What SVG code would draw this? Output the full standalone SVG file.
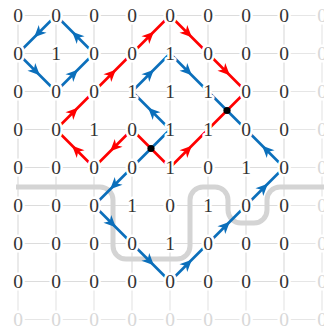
<svg xmlns="http://www.w3.org/2000/svg" width="324" height="329" viewBox="0 0 324 329">
<style>
.g{stroke:#dcdcdc;stroke-width:1.2;fill:none}
.gf{stroke:#e6e6e6;stroke-width:1.2;fill:none}
.band{stroke:#d4d4d4;stroke-width:5;fill:none}
.b{stroke:#0b6fbb;stroke-width:2.7;fill:none;marker-mid:url(#ab)}
.bp{stroke:#0b6fbb;stroke-width:2.7;fill:none}
.r{stroke:#ff0000;stroke-width:2.7;fill:none;marker-mid:url(#ar)}
.rp{stroke:#ff0000;stroke-width:2.7;fill:none}
text{font-family:"Liberation Serif","DejaVu Serif",serif;font-size:19.5px;text-anchor:middle;fill:#333;stroke:#fff;stroke-width:5;paint-order:stroke;stroke-linejoin:round}
.f text{fill:#d8d8d8}
</style>
<defs>
<marker id="ab" markerUnits="userSpaceOnUse" viewBox="-14 -7 16 14" markerWidth="16" markerHeight="14" refX="-4" refY="0" orient="auto"><path d="M0,0 L-12,-5.5 L-8.5,0 L-12,5.5 Z" fill="#0b6fbb"/></marker>
<marker id="ar" markerUnits="userSpaceOnUse" viewBox="-14 -7 16 14" markerWidth="16" markerHeight="14" refX="-4" refY="0" orient="auto"><path d="M0,0 L-12,-5.5 L-8.5,0 L-12,5.5 Z" fill="#ff0000"/></marker>
</defs>
<g id="grid">
<path class="g" d="M18,15.5H284M18,53.5H284M18,91.5H284M18,129.5H284M18,167.5H284M18,205.5H284M18,243.5H284M18,281.5H284"/>
<path class="g" d="M18,15.5V281.5M56,15.5V281.5M94,15.5V281.5M132,15.5V281.5M170,15.5V281.5M208,15.5V281.5M246,15.5V281.5M284,15.5V281.5"/>
<path class="gf" d="M284,15.5H322M284,53.5H322M284,91.5H322M284,129.5H322M284,167.5H322M284,205.5H322M284,243.5H322M284,281.5H322M18,319.5H322M322,15.5V319.5"/>
<path class="gf" d="M18,281.5V319.5M56,281.5V319.5M94,281.5V319.5M132,281.5V319.5M170,281.5V319.5M208,281.5V319.5M246,281.5V319.5M284,281.5V319.5"/>
</g>
<path id="band" class="band" d="M16,187 H100 A13,13 0 0 1 113,200 V246 A13,13 0 0 0 126,259 H177 A13,13 0 0 0 190,246 V200 A13,13 0 0 1 203,187 H215 A13,13 0 0 1 228,200 V210 A13,13 0 0 0 241,223 H254 A13,13 0 0 0 267,210 V200 A13,13 0 0 1 280,187 H324"/>
<g id="connectors">
<path class="b" d="M56,15.5 L37,34.5 L18,53.5"/>
<path class="b" d="M18,53.5 L37,72.5 L56,91.5"/>
<path class="b" d="M56,91.5 L75,72.5 L94,53.5"/>
<path class="b" d="M94,53.5 L75,34.5 L56,15.5"/>
<path class="b" d="M170,129.5 L151,110.5 L132,91.5"/>
<path class="b" d="M132,91.5 L151,72.5 L170,53.5"/>
<path class="b" d="M170,53.5 L189,72.5 L208,91.5"/>
<path class="bp" d="M208,91.5 L246,129.5"/>
<path class="b" d="M284,167.5 L265,148.5 L246,129.5"/>
<path class="bp" d="M170,129.5 L132,167.5"/>
<path class="b" d="M132,167.5 L113,186.5 L94,205.5"/>
<path class="b" d="M94,205.5 L113,224.5 L132,243.5"/>
<path class="b" d="M132,243.5 L151,262.5 L170,281.5"/>
<path class="b" d="M170,281.5 L189,262.5 L208,243.5"/>
<path class="b" d="M208,243.5 L227,224.5 L246,205.5"/>
<path class="b" d="M246,205.5 L265,186.5 L284,167.5"/>
<path class="r" d="M94,167.5 L75,148.5 L56,129.5"/>
<path class="r" d="M56,129.5 L75,110.5 L94,91.5"/>
<path class="r" d="M94,91.5 L113,72.5 L132,53.5"/>
<path class="r" d="M132,53.5 L151,34.5 L170,15.5"/>
<path class="r" d="M170,15.5 L189,34.5 L208,53.5"/>
<path class="r" d="M208,53.5 L227,72.5 L246,91.5"/>
<path class="rp" d="M246,91.5 L208,129.5"/>
<path class="r" d="M170,167.5 L189,148.5 L208,129.5"/>
<path class="rp" d="M132,129.5 L170,167.5"/>
<path class="r" d="M132,129.5 L113,148.5 L94,167.5"/>
<circle cx="227" cy="110.5" r="3.6" fill="#000"/>
<circle cx="151" cy="148.5" r="3.6" fill="#000"/>
</g>
<g id="nodes">
<g id="n0-0"><text x="18" y="22.1">0</text></g><g id="n0-1"><text x="56" y="22.1">0</text></g><g id="n0-2"><text x="94" y="22.1">0</text></g><g id="n0-3"><text x="132" y="22.1">0</text></g><g id="n0-4"><text x="170" y="22.1">0</text></g><g id="n0-5"><text x="208" y="22.1">0</text></g><g id="n0-6"><text x="246" y="22.1">0</text></g><g id="n0-7"><text x="284" y="22.1">0</text></g>
<g id="n1-0"><text x="18" y="60.1">0</text></g><g id="n1-1"><text x="56" y="60.1">1</text></g><g id="n1-2"><text x="94" y="60.1">0</text></g><g id="n1-3"><text x="132" y="60.1">0</text></g><g id="n1-4"><text x="170" y="60.1">1</text></g><g id="n1-5"><text x="208" y="60.1">0</text></g><g id="n1-6"><text x="246" y="60.1">0</text></g><g id="n1-7"><text x="284" y="60.1">0</text></g>
<g id="n2-0"><text x="18" y="98.1">0</text></g><g id="n2-1"><text x="56" y="98.1">0</text></g><g id="n2-2"><text x="94" y="98.1">0</text></g><g id="n2-3"><text x="132" y="98.1">1</text></g><g id="n2-4"><text x="170" y="98.1">1</text></g><g id="n2-5"><text x="208" y="98.1">1</text></g><g id="n2-6"><text x="246" y="98.1">0</text></g><g id="n2-7"><text x="284" y="98.1">0</text></g>
<g id="n3-0"><text x="18" y="136.1">0</text></g><g id="n3-1"><text x="56" y="136.1">0</text></g><g id="n3-2"><text x="94" y="136.1">1</text></g><g id="n3-3"><text x="132" y="136.1">0</text></g><g id="n3-4"><text x="170" y="136.1">1</text></g><g id="n3-5"><text x="208" y="136.1">1</text></g><g id="n3-6"><text x="246" y="136.1">0</text></g><g id="n3-7"><text x="284" y="136.1">0</text></g>
<g id="n4-0"><text x="18" y="174.1">0</text></g><g id="n4-1"><text x="56" y="174.1">0</text></g><g id="n4-2"><text x="94" y="174.1">0</text></g><g id="n4-3"><text x="132" y="174.1">0</text></g><g id="n4-4"><text x="170" y="174.1">1</text></g><g id="n4-5"><text x="208" y="174.1">0</text></g><g id="n4-6"><text x="246" y="174.1">1</text></g><g id="n4-7"><text x="284" y="174.1">0</text></g>
<g id="n5-0"><text x="18" y="212.1">0</text></g><g id="n5-1"><text x="56" y="212.1">0</text></g><g id="n5-2"><text x="94" y="212.1">0</text></g><g id="n5-3"><text x="132" y="212.1">1</text></g><g id="n5-4"><text x="170" y="212.1">0</text></g><g id="n5-5"><text x="208" y="212.1">1</text></g><g id="n5-6"><text x="246" y="212.1">0</text></g><g id="n5-7"><text x="284" y="212.1">0</text></g>
<g id="n6-0"><text x="18" y="250.1">0</text></g><g id="n6-1"><text x="56" y="250.1">0</text></g><g id="n6-2"><text x="94" y="250.1">0</text></g><g id="n6-3"><text x="132" y="250.1">0</text></g><g id="n6-4"><text x="170" y="250.1">1</text></g><g id="n6-5"><text x="208" y="250.1">0</text></g><g id="n6-6"><text x="246" y="250.1">0</text></g><g id="n6-7"><text x="284" y="250.1">0</text></g>
<g id="n7-0"><text x="18" y="288.1">0</text></g><g id="n7-1"><text x="56" y="288.1">0</text></g><g id="n7-2"><text x="94" y="288.1">0</text></g><g id="n7-3"><text x="132" y="288.1">0</text></g><g id="n7-4"><text x="170" y="288.1">0</text></g><g id="n7-5"><text x="208" y="288.1">0</text></g><g id="n7-6"><text x="246" y="288.1">0</text></g><g id="n7-7"><text x="284" y="288.1">0</text></g>
<g class="f">
<g id="n0-8"><text x="322" y="22.1">0</text></g><g id="n1-8"><text x="322" y="60.1">0</text></g><g id="n2-8"><text x="322" y="98.1">0</text></g><g id="n3-8"><text x="322" y="136.1">0</text></g><g id="n4-8"><text x="322" y="174.1">0</text></g><g id="n5-8"><text x="322" y="212.1">0</text></g><g id="n6-8"><text x="322" y="250.1">0</text></g><g id="n7-8"><text x="322" y="288.1">0</text></g>
<g id="n8-0"><text x="18" y="326.1">0</text></g><g id="n8-1"><text x="56" y="326.1">0</text></g><g id="n8-2"><text x="94" y="326.1">0</text></g><g id="n8-3"><text x="132" y="326.1">0</text></g><g id="n8-4"><text x="170" y="326.1">0</text></g><g id="n8-5"><text x="208" y="326.1">0</text></g><g id="n8-6"><text x="246" y="326.1">0</text></g><g id="n8-7"><text x="284" y="326.1">0</text></g><g id="n8-8"><text x="322" y="326.1">0</text></g>
</g>
</g>
</svg>
